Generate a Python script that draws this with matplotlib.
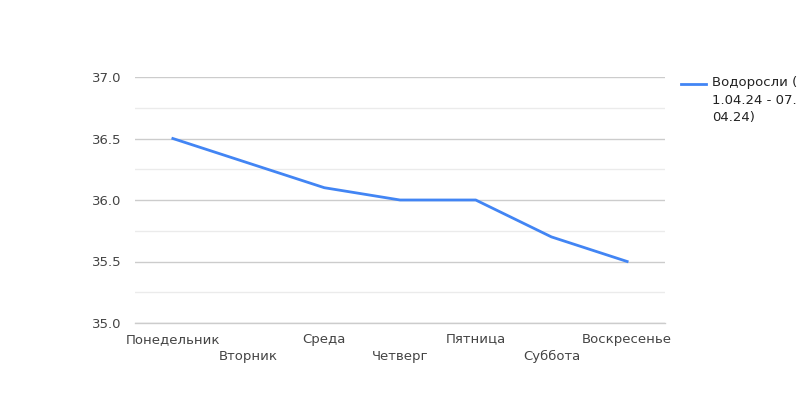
import matplotlib
matplotlib.use("Agg")
import matplotlib.pyplot as plt
import matplotlib.lines as mlines
from matplotlib.ticker import MultipleLocator

days = ["Понедельник", "Вторник", "Среда", "Четверг", "Пятница", "Суббота", "Воскресенье"]
values = [36.5, 36.3, 36.1, 36.0, 36.0, 35.7, 35.5]
series_label = "Водоросли (\n1.04.24 - 07.\n04.24)"
y_ticks = [35.0, 35.5, 36.0, 36.5, 37.0]

plt.rcParams["font.family"] = "DejaVu Sans"
text_color = "#444444"

fig = plt.figure(figsize=(8, 4), dpi=100)
ax = fig.add_axes([0.16875, 0.1925, 0.6625, 0.615])

x = list(range(len(days)))
ax.plot(x, values, color="#4285F4", linewidth=2, zorder=3)

ax.set_xlim(-0.5, len(days) - 0.5)
ax.set_ylim(35.0, 37.0)
ax.set_yticks(y_ticks)
ax.set_yticklabels([f"{v:.1f}" for v in y_ticks])
ax.yaxis.set_minor_locator(MultipleLocator(0.25))
ax.grid(which="major", axis="y", color="#cccccc", linewidth=1)
ax.grid(which="minor", axis="y", color="#ebebeb", linewidth=1)
ax.axhline(y_ticks[0], color="#cccccc", linewidth=1, clip_on=False, zorder=1)
ax.set_axisbelow(True)

# alternate rows for category labels
ax.set_xticks(x)
ax.set_xticklabels([d if i % 2 == 0 else "\n" + d for i, d in enumerate(days)])
for lbl in ax.get_xticklabels():
    lbl.set_linespacing(1.45)
ax.tick_params(axis="both", which="both", length=0, labelsize=9.5, colors=text_color)
ax.tick_params(axis="x", pad=7)
ax.tick_params(axis="y", pad=10)
for spine in ax.spines.values():
    spine.set_visible(False)

# legend on the right
fig.add_artist(mlines.Line2D([681 / 800, 706 / 800], [1 - 84 / 400, 1 - 84 / 400],
                             color="#4285F4", linewidth=2))
fig.text(712 / 800, 1 - 76 / 400, series_label, ha="left", va="top",
         fontsize=9.5, color="#222222", linespacing=1.45)

fig.savefig("out.png", dpi=100)
